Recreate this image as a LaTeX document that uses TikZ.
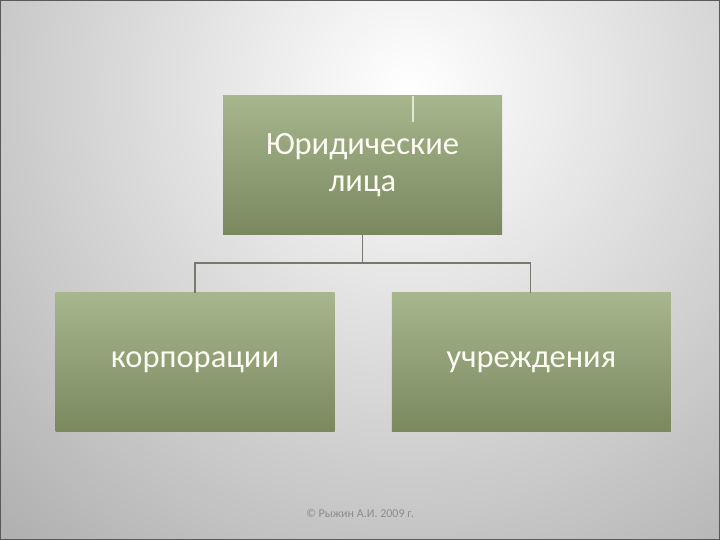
\documentclass[tikz,border=0pt]{standalone}
\usepackage{fontspec}
\setmainfont{Carlito}
\usetikzlibrary{positioning,calc}

\definecolor{slidegray}{RGB}{150,150,150}
\definecolor{boxtop}{RGB}{166,182,141}
\definecolor{boxbot}{RGB}{122,136,94}
\definecolor{linkgray}{RGB}{120,120,112}
\definecolor{tickcol}{RGB}{226,232,214}
\definecolor{notegray}{RGB}{140,140,140}

\begin{document}
\begin{tikzpicture}[
  x=1pt, y=1pt,
  node distance=58pt and 58pt,
  entity/.style={
    rectangle, inner sep=0pt,
    minimum width=279pt, minimum height=139pt,
    top color=boxtop, bottom color=boxbot,
    text=white!96!yellow, align=center,
    font=\fontsize{32.5}{37}\selectfont
  },
  link/.style={draw=linkgray, line width=1.6pt},
  tick/.style={draw=tickcol, line width=1.2pt}
]

% background
\useasboundingbox (0,0) rectangle (720,540);
\begin{scope}
  \clip (0,0) rectangle (720,540);
  \shade[inner color=white, outer color=slidegray] (410,450) circle (800);
\end{scope}
\draw[black!65, line width=1.2pt] (0,0) rectangle (720,540);

% top
\node[entity] (legal) at (362.5,374.5) {Юридические\\лица};
\draw[tick] (legal.north) ++(50.5,0) -- ++(0,-26);

% bottom row
\node[entity] (corp) at (195,177.5) {корпорации};
\node[entity, right=57pt of corp] (inst) {учреждения};

% links
\coordinate[below=28pt of legal.south] (fork);
\draw[link] (legal.south) -- (fork);
\draw[link] (fork) -| (corp.north);
\draw[link] (fork) -| ($(inst.north)+(-1,0)$);

% footer
\node[text=notegray, font=\fontsize{12}{14}\selectfont] (note) at (360,27) {© Рыжин А.И. 2009 г.};
\end{tikzpicture}
\end{document}
